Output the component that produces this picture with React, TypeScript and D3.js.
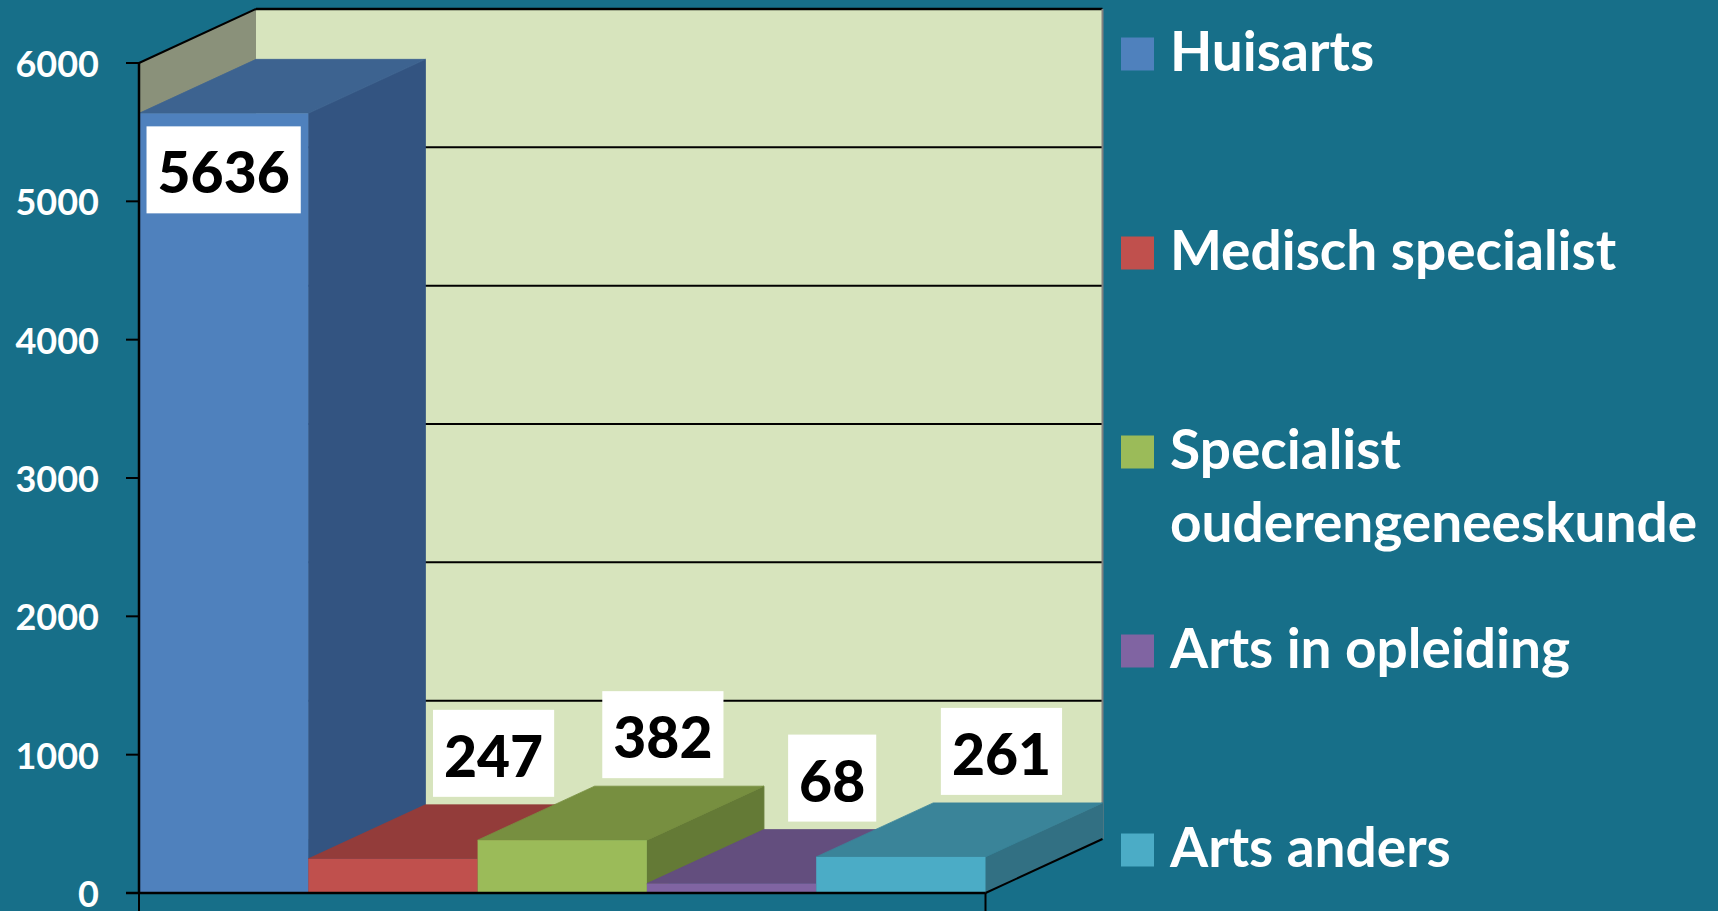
import React, { useEffect, useRef } from 'react';
import * as d3 from 'd3';

const categories = ['Huisarts', 'Medisch specialist', 'Specialist ouderengeneeskunde', 'Arts in opleiding', 'Arts anders'];
const legendLines = [['Huisarts'], ['Medisch specialist'], ['Specialist', 'ouderengeneeskunde'], ['Arts in opleiding'], ['Arts anders']];
const values = [5636, 247, 382, 68, 261];
const yTicks = [0, 1000, 2000, 3000, 4000, 5000, 6000];
const frontColors = ['#4F81BD', '#C0504D', '#9BBB59', '#8064A2', '#4BACC6'];
const topColors = ['#3D6390', '#933C3A', '#778F40', '#634E7E', '#3A8499'];
const sideColors = ['#335481', '#7A3331', '#647A36', '#52406B', '#327083'];

const W = 1718;
const H = 911;
const FONT = 'Lato, "Open Sans", sans-serif';

export default function App() {
  const ref = useRef<SVGSVGElement>(null);

  useEffect(() => {
    const svg = d3.select(ref.current);
    svg.selectAll('*').remove();

    const x0 = 139, x1 = 985.5;
    const dx = 117, dy = 54;
    const y = d3.scaleLinear().domain([0, 6000]).range([893, 63]);
    const x = d3.scaleBand<string>().domain(categories).range([x0, x1]).padding(0);
    const yTop = y(6000), yBot = y(0);

    svg.append('rect').attr('width', W).attr('height', H).attr('fill', '#176F89');

    // back wall
    svg.append('rect')
      .attr('x', x0 + dx).attr('y', yTop - dy)
      .attr('width', x1 - x0).attr('height', yBot - yTop)
      .attr('fill', '#D7E4BD');
    svg.append('g').selectAll('line').data(yTicks.filter(t => t > 0 && t < 6000)).join('line')
      .attr('x1', x0 + dx).attr('x2', x1 + dx)
      .attr('y1', d => y(d) - dy).attr('y2', d => y(d) - dy)
      .attr('stroke', '#000').attr('stroke-width', 2);
    svg.append('line').attr('x1', x0 + dx).attr('x2', x1 + dx)
      .attr('y1', yTop - dy).attr('y2', yTop - dy).attr('stroke', '#000').attr('stroke-width', 2.5);
    svg.append('line').attr('x1', x1 + dx).attr('x2', x1 + dx)
      .attr('y1', yTop - dy).attr('y2', yBot - dy).attr('stroke', '#808080').attr('stroke-width', 2);

    // left side wall
    svg.append('polygon')
      .attr('points', [[x0, yTop], [x0 + dx, yTop - dy], [x0 + dx, yBot - dy], [x0, yBot]].map(p => p.join(',')).join(' '))
      .attr('fill', '#8A917A');
    svg.append('line').attr('x1', x0).attr('y1', yTop).attr('x2', x0 + dx).attr('y2', yTop - dy)
      .attr('stroke', '#000').attr('stroke-width', 2);

    // bars
    const bars = svg.append('g');
    values.forEach((v, i) => {
      const c = categories[i];
      const bx = x(c)!, bw = x.bandwidth();
      const ty = y(v);
      const g = bars.append('g');
      g.append('polygon')
        .attr('points', [[bx + bw, ty], [bx + bw + dx, ty - dy], [bx + bw + dx, yBot - dy], [bx + bw, yBot]].map(p => p.join(',')).join(' '))
        .attr('fill', sideColors[i]).attr('stroke', sideColors[i]).attr('stroke-width', 1);
      g.append('polygon')
        .attr('points', [[bx, ty], [bx + bw, ty], [bx + bw + dx, ty - dy], [bx + dx, ty - dy]].map(p => p.join(',')).join(' '))
        .attr('fill', topColors[i]).attr('stroke', topColors[i]).attr('stroke-width', 0.8);
      g.append('rect').attr('x', bx).attr('y', ty).attr('width', bw).attr('height', yBot - ty)
        .attr('fill', frontColors[i]);
    });

    // axes
    svg.append('line').attr('x1', x0).attr('x2', x0).attr('y1', yTop).attr('y2', yBot)
      .attr('stroke', '#000').attr('stroke-width', 2.5);
    svg.append('g').selectAll('line').data(yTicks).join('line')
      .attr('x1', x0 - 13).attr('x2', x0).attr('y1', d => y(d)).attr('y2', d => y(d))
      .attr('stroke', '#000').attr('stroke-width', 2);
    svg.append('line').attr('x1', x0 - 13).attr('x2', x1).attr('y1', yBot).attr('y2', yBot)
      .attr('stroke', '#000').attr('stroke-width', 2.5);
    svg.append('line').attr('x1', x1).attr('y1', yBot).attr('x2', x1 + dx).attr('y2', yBot - dy)
      .attr('stroke', '#000').attr('stroke-width', 2);
    svg.append('g').selectAll('line').data([x0, x1]).join('line')
      .attr('x1', d => d).attr('x2', d => d).attr('y1', yBot).attr('y2', H)
      .attr('stroke', '#000').attr('stroke-width', 2);

    svg.append('g').selectAll('text').data(yTicks).join('text')
      .attr('x', 99).attr('y', d => y(d) + 14)
      .attr('text-anchor', 'end')
      .attr('font-family', FONT).attr('font-weight', 700).attr('font-size', 36)
      .attr('fill', '#fff')
      .text(d => String(d));

    // data labels
    const labels = svg.append('g');
    values.forEach((v, i) => {
      const c = categories[i];
      const bx = x(c)!, bw = x.bandwidth();
      const ty = y(v);
      const boxH = 87;
      const lg = labels.append('g');
      const t = lg.append('text')
        .attr('font-family', FONT).attr('font-weight', 900).attr('font-size', 57)
        .attr('fill', '#000').attr('text-anchor', 'middle')
        .text(String(v));
      const tw = (t.node() as SVGTextElement).getComputedTextLength();
      const boxW = tw + 22;
      let cx: number, boxBottom: number;
      if (ty - dy - 8 - boxH < yTop - dy) {
        cx = bx + bw / 2;
        boxBottom = ty + 13 + boxH;
      } else {
        cx = bx + bw / 2 + dx * 0.86;
        boxBottom = ty - dy - 8;
      }
      lg.insert('rect', 'text')
        .attr('x', cx - boxW / 2).attr('y', boxBottom - boxH)
        .attr('width', boxW).attr('height', boxH).attr('fill', '#fff');
      t.attr('x', cx).attr('y', boxBottom - 20);
    });

    // legend
    const legend = svg.append('g');
    legendLines.forEach((lines, i) => {
      const cy = 54 + i * 199;
      legend.append('rect').attr('x', 1121).attr('y', cy - 16.5).attr('width', 33).attr('height', 33)
        .attr('fill', frontColors[i]);
      lines.forEach((ln, j) => {
        legend.append('text')
          .attr('x', 1170).attr('y', cy + 17 + j * 73)
          .attr('font-family', FONT).attr('font-weight', 700).attr('font-size', 55)
          .attr('fill', '#fff')
          .text(ln);
      });
    });
  }, []);

  return (
    <svg ref={ref} width={W} height={H} style={{ position: 'absolute', left: 0, top: 0, display: 'block' }} />
  );
}
